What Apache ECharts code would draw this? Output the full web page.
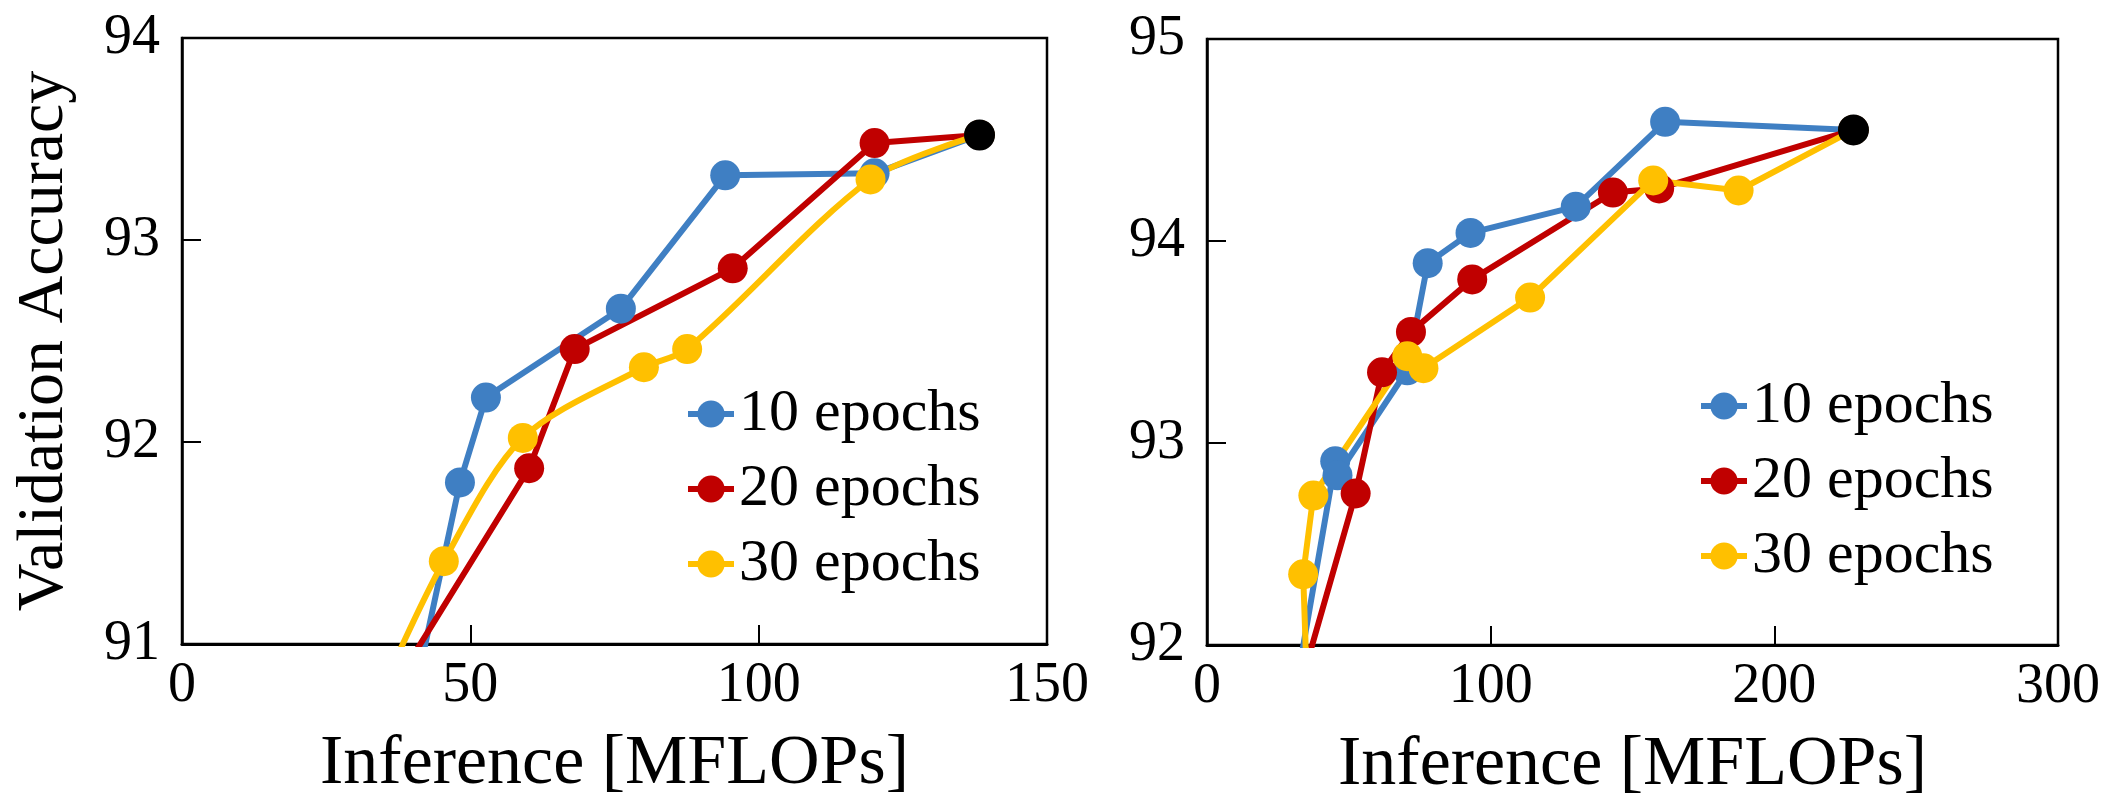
<!DOCTYPE html>
<html>
<head>
<meta charset="utf-8">
<script src="https://cdn.jsdelivr.net/npm/echarts@6/dist/echarts.min.js"></script>
<style>
  html, body { margin: 0; padding: 0; background: #fff; }
  #chart { width: 2123px; height: 809px; }
</style>
</head>
<body>
<div id="chart"></div>
<script>
// series names
const seriesNames = ['10 epochs', '20 epochs', '30 epochs'];

// left panel: inference (MFLOPs) and validation accuracy
// (first point of each line sits under the axis and gets clipped)
const leftX10 = [40.7, 48.2, 52.7, 76.1, 94.2, 120.1, 138.3];
const leftY10 = [90.8, 91.80, 92.22, 92.66, 93.32, 93.33, 93.52];
const leftX20 = [37.0, 60.2, 68.1, 95.5, 120.1, 138.3];
const leftY20 = [90.8, 91.87, 92.46, 92.86, 93.48, 93.52];
const leftX30 = [35.1, 45.4, 59.1, 80.1, 87.6, 119.4, 138.3];
const leftY30 = [90.8, 91.41, 92.02, 92.37, 92.46, 93.30, 93.52];
const leftBase = [138.3, 93.52];

// right panel
const rightX10 = [31.5, 45.2, 46.0, 70.6, 77.8, 92.9, 130.0, 161.5, 227.9];
const rightY10 = [91.8, 92.91, 92.84, 93.36, 93.89, 94.04, 94.17, 94.59, 94.55];
const rightX20 = [33.0, 52.4, 61.7, 71.9, 93.5, 143.1, 159.4, 227.9];
const rightY20 = [91.8, 92.75, 93.35, 93.55, 93.81, 94.24, 94.26, 94.55];
const rightX30 = [36.0, 33.9, 37.5, 70.6, 76.3, 113.9, 157.3, 187.4, 227.9];
const rightY30 = [91.5, 92.35, 92.74, 93.43, 93.37, 93.72, 94.30, 94.25, 94.55];
const rightBase = [227.9, 94.55];

// axis ranges
const leftXRange = [0, 150, 50];
const leftYRange = [91, 94, 1];
const rightXRange = [0, 300, 100];
const rightYRange = [92, 95, 1];

const colors = ['#3f7fc3', '#c00000', '#ffc000'];
const FONT = 'Liberation Serif';

function zip(xs, ys) {
  return xs.map((x, i) => [x, ys[i]]);
}

function makeXAxis(idx, range) {
  return {
    type: 'value', gridIndex: idx,
    min: range[0], max: range[1], interval: range[2],
    name: 'Inference [MFLOPs]', nameLocation: 'middle', nameGap: 86,
    nameTextStyle: { fontFamily: FONT, fontSize: 70, color: '#000' },
    axisLine: { show: true, lineStyle: { color: '#000', width: 3 } },
    axisTick: { show: true, inside: true, length: 19, lineStyle: { color: '#000', width: 2 } },
    axisLabel: { fontFamily: FONT, fontSize: 56, color: '#000', margin: 14 },
    splitLine: { show: false }
  };
}

function makeYAxis(idx, range, name) {
  return {
    type: 'value', gridIndex: idx,
    min: range[0], max: range[1], interval: range[2],
    name: name, nameLocation: 'middle', nameGap: 104,
    nameTextStyle: { fontFamily: FONT, fontSize: 66, color: '#000' },
    axisLine: { show: true, lineStyle: { color: '#000', width: 2.5 } },
    axisTick: { show: true, inside: true, length: 19, lineStyle: { color: '#000', width: 2 } },
    axisLabel: { fontFamily: FONT, fontSize: 56, color: '#000', margin: 22 },
    splitLine: { show: false }
  };
}

function lineSeries(idx, name, data, color, smooth) {
  return {
    type: 'line', name: name, xAxisIndex: idx, yAxisIndex: idx,
    data: data, smooth: smooth, clip: true,
    symbol: 'circle', symbolSize: 30, showSymbol: true,
    lineStyle: { color: color, width: 6 },
    itemStyle: { color: color, opacity: 1 },
    emphasis: { disabled: true }
  };
}

function baseSeries(idx, point) {
  return {
    type: 'scatter', name: 'base', xAxisIndex: idx, yAxisIndex: idx,
    data: [point], symbol: 'circle', symbolSize: 31, z: 5,
    itemStyle: { color: '#000', opacity: 1 },
    emphasis: { disabled: true }
  };
}

function makeLegend(left, top) {
  return {
    data: seriesNames, orient: 'vertical', left: left, top: top,
    padding: 0, itemGap: 15, itemWidth: 46, itemHeight: 34,
    lineStyle: { width: 6 },
    textStyle: { fontFamily: FONT, fontSize: 60, color: '#000' },
    selectedMode: false
  };
}

const option = {
  backgroundColor: '#fff',
  animation: false,
  textStyle: { fontFamily: FONT },
  grid: [
    { left: 182, top: 38, width: 865, height: 606, show: true, borderColor: '#000', borderWidth: 2.5, outerBoundsMode: 'none' },
    { left: 1207, top: 39, width: 851, height: 606, show: true, borderColor: '#000', borderWidth: 2.5, outerBoundsMode: 'none' }
  ],
  legend: [makeLegend(685, 384), makeLegend(1698, 376)],
  xAxis: [makeXAxis(0, leftXRange), makeXAxis(1, rightXRange)],
  yAxis: [makeYAxis(0, leftYRange, 'Validation Accuracy'), makeYAxis(1, rightYRange, '')],
  series: [
    lineSeries(0, seriesNames[0], zip(leftX10, leftY10), colors[0], false),
    lineSeries(0, seriesNames[1], zip(leftX20, leftY20), colors[1], false),
    lineSeries(0, seriesNames[2], zip(leftX30, leftY30), colors[2], 0.3),
    baseSeries(0, leftBase),
    lineSeries(1, seriesNames[0], zip(rightX10, rightY10), colors[0], false),
    lineSeries(1, seriesNames[1], zip(rightX20, rightY20), colors[1], false),
    lineSeries(1, seriesNames[2], zip(rightX30, rightY30), colors[2], false),
    baseSeries(1, rightBase)
  ]
};

const myChart = echarts.init(document.getElementById('chart'));
myChart.setOption(option);
</script>
</body>
</html>
